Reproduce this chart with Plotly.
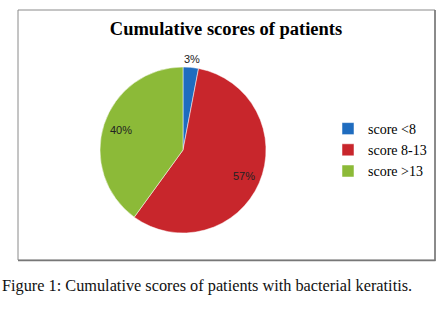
import math
import plotly.graph_objects as go

labels = ["score <8", "score 8-13", "score >13"]
values = [3, 57, 40]
colors = ["#1f6cbf", "#c8262c", "#8cba38"]
label_radius = [1.1, 0.8, 0.78]  # label distance, fraction of pie radius

W, H = 444, 313
CX, CY, R = 183, 150, 83

def px(x):
    return x / W

def py(y):
    return 1 - y / H

fig = go.Figure()
fig.add_trace(go.Pie(
    labels=labels,
    values=values,
    sort=False,
    direction="clockwise",
    rotation=0,
    marker=dict(colors=colors, line=dict(color="white", width=0.5)),
    textinfo="none",
    hoverinfo="label+percent",
    domain=dict(x=[px(CX - R), px(CX + R)], y=[py(CY + R), py(CY - R)]),
    showlegend=True,
))

# percentage labels positioned along each slice's mid-angle
annotations = []
total = sum(values)
cum = 0
for v, f in zip(values, label_radius):
    mid = (cum + v / 2) / total * 2 * math.pi
    cum += v
    lx = CX + f * R * math.sin(mid)
    ly = CY - f * R * math.cos(mid)
    annotations.append(dict(
        text=f"{round(v / total * 100)}%", xref="paper", yref="paper",
        x=px(lx), y=py(ly), xanchor="center", yanchor="middle", showarrow=False,
        font=dict(family="Liberation Sans, Arial", size=11, color="#222222")))

annotations.append(dict(
    text="Figure 1: Cumulative scores of patients with bacterial keratitis.",
    xref="paper", yref="paper", x=px(0), y=py(285),
    xanchor="left", yanchor="middle", showarrow=False,
    font=dict(family="Liberation Serif, Times New Roman", size=16.3, color="#111111")))

fig.update_layout(
    width=W, height=H,
    margin=dict(l=0, r=0, t=0, b=0),
    paper_bgcolor="white",
    plot_bgcolor="white",
    title=dict(
        text="<b>Cumulative scores of patients</b>",
        x=px(226), xanchor="center",
        y=py(29), yanchor="middle",
        font=dict(family="Liberation Serif, Times New Roman", size=18.5, color="black"),
    ),
    legend=dict(
        x=px(328), xanchor="left",
        y=py(113), yanchor="top",
        font=dict(family="Liberation Serif, Times New Roman", size=14, color="black"),
        bgcolor="rgba(0,0,0,0)",
    ),
    shapes=[
        dict(type="rect", xref="paper", yref="paper",
             x0=px(18), x1=px(435), y0=py(260), y1=py(10),
             line=dict(color="#8a8a8a", width=1)),
        dict(type="line", xref="paper", yref="paper",
             x0=px(435), x1=px(435), y0=py(261), y1=py(10),
             line=dict(color="#777777", width=1.5)),
        dict(type="line", xref="paper", yref="paper",
             x0=px(18), x1=px(435.5), y0=py(260.5), y1=py(260.5),
             line=dict(color="#777777", width=1.5)),
    ],
    annotations=annotations,
)

fig.write_html("out.html", config={"displayModeBar": False},
               post_script="document.body.style.margin='0';")
